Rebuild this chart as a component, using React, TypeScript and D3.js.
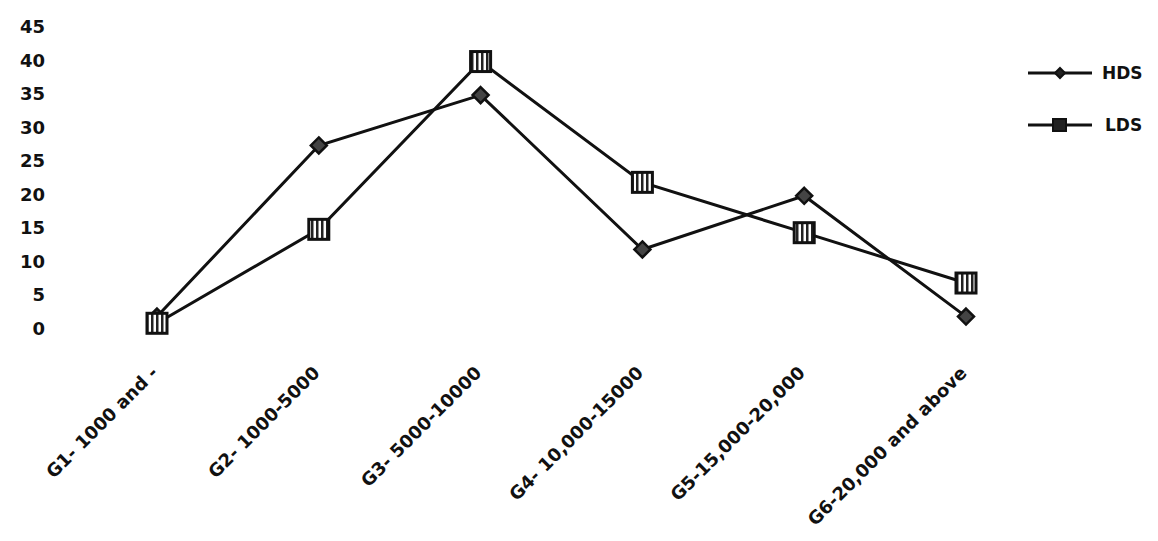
import React from "react";
import * as d3 from "d3";

// Income groups on the x axis
const categories: string[] = [
  "G1- 1000 and -",
  "G2- 1000-5000",
  "G3- 5000-10000",
  "G4- 10,000-15000",
  "G5-15,000-20,000",
  "G6-20,000 and above",
];

// Series values (percent)
const hdsValues: number[] = [2, 27.5, 35, 12, 20, 2];
const ldsValues: number[] = [1, 15, 40, 22, 14.5, 7];

// Y tick labels
const yTicks: number[] = [0, 5, 10, 15, 20, 25, 30, 35, 40, 45];

const W = 1158;
const H = 541;

const font = "'DejaVu Sans', 'Liberation Sans', Arial, sans-serif";

export default function App() {
  const x = d3.scalePoint<string>().domain(categories).range([157, 966]);
  const y = d3.scaleLinear().domain([0, 45]).range([330, 28]);

  const line = d3
    .line<number>()
    .x((_, i) => x(categories[i]) as number)
    .y((d) => y(d));

  const diamond = (cx: number, cy: number, r: number) =>
    `M${cx},${cy - r}L${cx + r},${cy}L${cx},${cy + r}L${cx - r},${cy}Z`;

  const Square = ({ cx, cy }: { cx: number; cy: number }) => (
    <rect
      x={cx - 10}
      y={cy - 10}
      width={20}
      height={20}
      fill="url(#hatch)"
      stroke="#111"
      strokeWidth={3}
    />
  );

  return (
    <svg
      width={W}
      height={H}
      style={{ position: "absolute", left: 0, top: 0, background: "#fff" }}
    >
      <defs>
        <pattern id="hatch" width="5" height="5" patternUnits="userSpaceOnUse">
          <rect width="5" height="5" fill="#fff" />
          <rect x="1" width="2.5" height="5" fill="#222" />
        </pattern>
      </defs>

      {/* y axis labels */}
      {yTicks.map((t) => (
        <text
          key={t}
          x={45}
          y={y(t)}
          textAnchor="end"
          dominantBaseline="middle"
          fontFamily={font}
          fontWeight={700}
          fontSize={18}
          fill="#111"
        >
          {t}
        </text>
      ))}

      {/* x axis labels */}
      {categories.map((c) => {
        const cx = (x(c) as number) + 2;
        const cy = 374;
        return (
          <text
            key={c}
            x={cx}
            y={cy}
            textAnchor="end"
            fontFamily={font}
            fontWeight={700}
            fontSize={18}
            fill="#111"
            transform={`rotate(-45 ${cx} ${cy})`}
          >
            {c}
          </text>
        );
      })}

      {/* HDS series */}
      <path d={line(hdsValues) || ""} fill="none" stroke="#111" strokeWidth={3} />
      {/* LDS series */}
      <path d={line(ldsValues) || ""} fill="none" stroke="#111" strokeWidth={3} />

      {hdsValues.map((v, i) => (
        <path
          key={"h" + i}
          d={diamond(x(categories[i]) as number, y(v), 8)}
          fill="#444"
          stroke="#111"
          strokeWidth={2.5}
        />
      ))}
      {ldsValues.map((v, i) => (
        <Square key={"l" + i} cx={x(categories[i]) as number} cy={y(v)} />
      ))}

      {/* legend */}
      <g>
        <line x1={1028} x2={1092} y1={73} y2={73} stroke="#111" strokeWidth={3} />
        <path d={diamond(1060, 73, 5)} fill="#222" stroke="#111" strokeWidth={2} />
        <text
          x={1102}
          y={74}
          dominantBaseline="middle"
          fontFamily={font}
          fontWeight={700}
          fontSize={17}
          fill="#111"
        >
          HDS
        </text>
        <line x1={1028} x2={1092} y1={125} y2={125} stroke="#111" strokeWidth={3} />
        <rect x={1053} y={119} width={13} height={12} fill="#222" stroke="#111" strokeWidth={2} />
        <text
          x={1105}
          y={126}
          dominantBaseline="middle"
          fontFamily={font}
          fontWeight={700}
          fontSize={17}
          fill="#111"
        >
          LDS
        </text>
      </g>
    </svg>
  );
}
